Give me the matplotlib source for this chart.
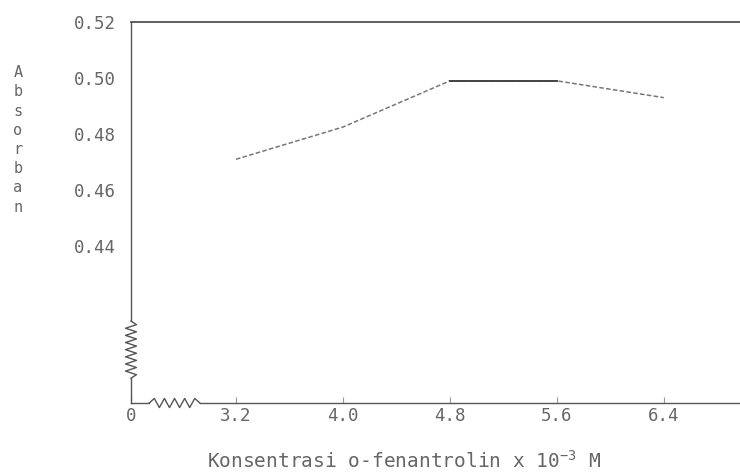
import numpy as np
import matplotlib
matplotlib.use("Agg")
import matplotlib.pyplot as plt

# values
konsentrasi = [3.2, 4.0, 4.8, 5.6, 6.4]
absorban = [0.471, 0.4825, 0.499, 0.499, 0.493]
x_ticks = [0, 3.2, 4.0, 4.8, 5.6, 6.4]
x_tick_labels = ["0", "3.2", "4.0", "4.8", "5.6", "6.4"]
y_ticks = [0.44, 0.46, 0.48, 0.50, 0.52]
y_tick_labels = ["0.44", "0.46", "0.48", "0.50", "0.52"]

ink = "#666666"
plt.rcParams['font.family'] = ['DejaVu Sans Mono']
plt.rcParams['mathtext.default'] = 'regular'


def squash(cut, start):
    """broken axis: values below `cut` are pressed into [start, cut]"""
    def fwd(v):
        v = np.asarray(v, dtype=float)
        return np.where(v >= cut, v, start + v * (cut - start) / cut)

    def inv(u):
        u = np.asarray(u, dtype=float)
        return np.where(u >= cut, u, (u - start) * cut / (cut - start))
    return fwd, inv


fig = plt.figure(figsize=(7.4, 4.73), dpi=100)
ax = fig.add_axes([131 / 740, 1 - 403 / 473, 609 / 740, 381 / 473])

ax.set_xscale('function', functions=squash(2.8, 2.415))
ax.set_yscale('function', functions=squash(0.42, 0.384))
ax.set_xlim(0, 6.97)
ax.set_ylim(0, 0.52)

# the curve: dotted print on the slopes, solid on the plateau
ax.plot(konsentrasi, absorban, color="#777777", lw=1.1, ls=(0, (3, 1.5)))
ax.plot(konsentrasi[2:4], absorban[2:4], color="#444444", lw=1.4)

ax.set_xticks(x_ticks)
ax.set_xticklabels(x_tick_labels)
ax.set_yticks(y_ticks)
ax.set_yticklabels(y_tick_labels)
ax.tick_params(axis='x', direction='in', length=4, width=0.8, color="#999999",
               pad=3, labelsize=12.5, labelcolor=ink)
ax.tick_params(axis='y', length=0, pad=11, labelsize=12.5, labelcolor=ink)

for side in ['left', 'bottom', 'right']:
    ax.spines[side].set_visible(False)
ax.spines['top'].set_color("#444444")
ax.spines['top'].set_linewidth(1.2)

# hand drawn axes with break zigzags (axes coordinates)
kw = dict(transform=ax.transAxes, clip_on=False, color="#555555", lw=1.0)
ax.plot([0, 0], [1, 0.215], **kw)
ax.plot([0, 0], [0.065, 0], **kw)
n = 17
zy = np.linspace(0.215, 0.065, n)
zx = np.where(np.arange(n) % 2 == 0, -0.009, 0.009)
zx[0] = zx[-1] = 0
ax.plot(zx, zy, **kw)

ax.plot([0, 0.03], [0, 0], **kw)
ax.plot([0.113, 1], [0, 0], **kw)
hx = np.linspace(0.03, 0.113, 11)
hy = np.where(np.arange(11) % 2 == 0, -0.012, 0.012)
hy[0] = hy[-1] = 0
ax.plot(hx, hy, **kw)

fig.text(18 / 740, 1 - 140 / 473, "A\nb\ns\no\nr\nb\na\nn", ha='center', va='center',
         fontsize=11, color=ink, linespacing=1.35)
fig.text(404 / 740, 1 - 461 / 473, "Konsentrasi o-fenantrolin x 10$^{-3}$ M",
         ha='center', va='center', fontsize=14, color=ink)

fig.savefig("out.png", dpi=100)
